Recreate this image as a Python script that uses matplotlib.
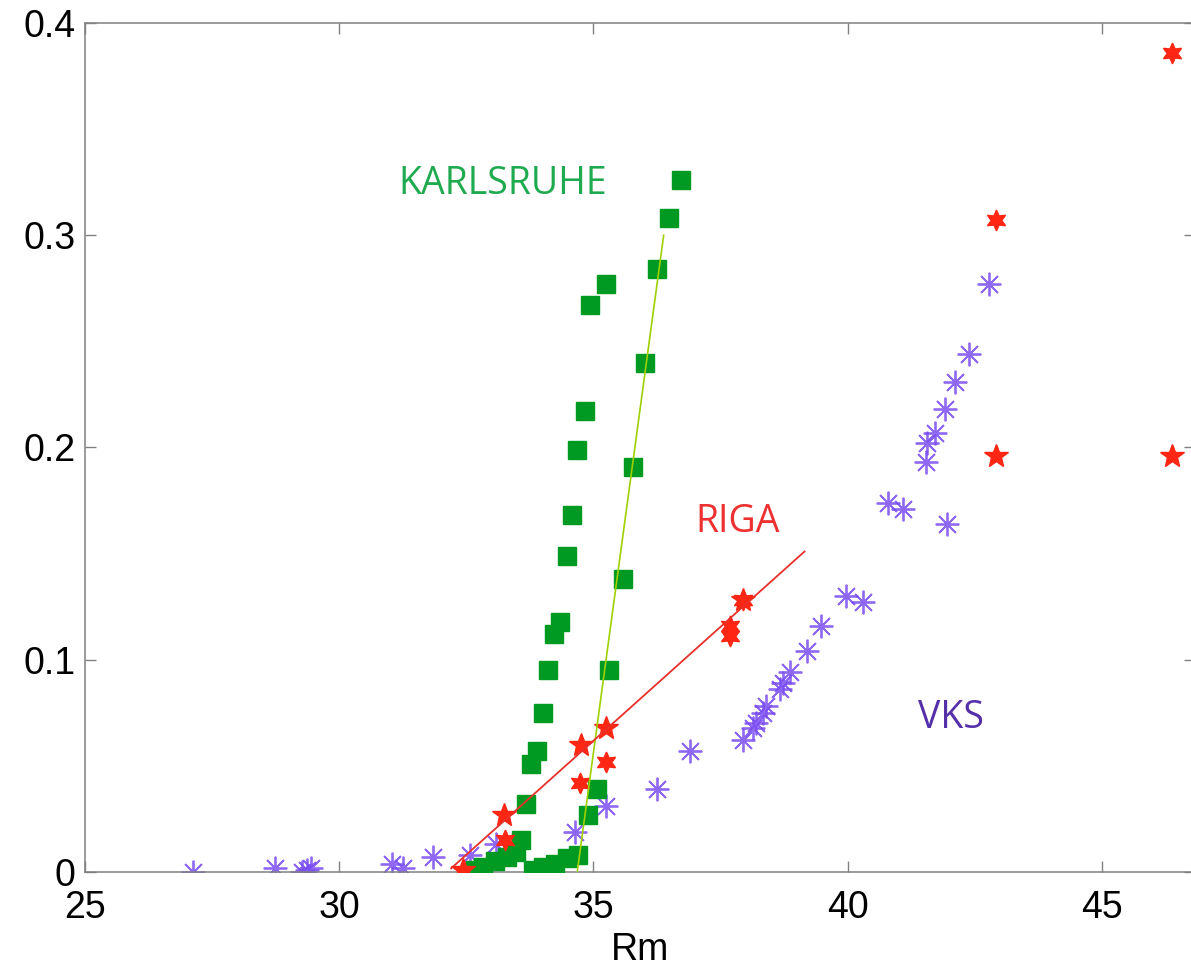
import numpy as np
import matplotlib
matplotlib.use("Agg")
import matplotlib.pyplot as plt

# Karlsruhe squares, two branches
kar_up_x = [32.67, 32.83, 33.06, 33.29, 33.48, 33.58, 33.68, 33.78, 33.88, 34.01,
            34.11, 34.22, 34.34, 34.47, 34.57, 34.67, 34.83, 34.94, 35.25]
kar_up_y = [0.001, 0.0025, 0.005, 0.007, 0.0095, 0.015, 0.032, 0.051, 0.057, 0.075,
            0.095, 0.112, 0.118, 0.149, 0.168, 0.199, 0.217, 0.267, 0.277]
kar_dn_x = [33.81, 34.01, 34.24, 34.47, 34.70, 34.90, 35.07, 35.31, 35.58, 35.77,
            36.01, 36.24, 36.48, 36.73]
kar_dn_y = [0.001, 0.0025, 0.004, 0.0065, 0.008, 0.027, 0.039, 0.095, 0.138, 0.191,
            0.240, 0.284, 0.308, 0.326]
kar_fit_x = [34.68, 36.38]
kar_fit_y = [0.0, 0.300]

# Riga stars
riga_pent_x = [32.44, 33.24, 34.76, 35.25, 37.94, 42.92, 46.37]
riga_pent_y = [0.001, 0.027, 0.060, 0.068, 0.128, 0.196, 0.196]
riga_hex_x = [32.44, 33.26, 34.73, 35.25, 37.68, 37.68, 37.94, 42.92, 46.37]
riga_hex_y = [0.000, 0.015, 0.042, 0.052, 0.116, 0.111, 0.128, 0.307, 0.386]
riga_fit_x = [32.20, 39.15]
riga_fit_y = [0.0017, 0.151]

# VKS asterisks
vks_x = [27.12, 28.73, 29.26, 29.36, 29.45, 31.03, 31.26, 31.85, 32.57, 33.09,
         34.63, 35.25, 36.24, 36.89, 37.94, 38.14, 38.20, 38.33, 38.40, 38.66,
         38.73, 38.86, 39.19, 39.48, 39.97, 40.30, 40.79, 41.09, 41.96, 41.54,
         41.55, 41.71, 41.91, 42.10, 42.38, 42.78]
vks_y = [0.000, 0.002, 0.000, 0.001, 0.002, 0.004, 0.002, 0.007, 0.008, 0.013,
         0.019, 0.031, 0.039, 0.057, 0.062, 0.068, 0.070, 0.075, 0.078, 0.086,
         0.089, 0.094, 0.104, 0.116, 0.130, 0.127, 0.174, 0.171, 0.164, 0.193,
         0.202, 0.207, 0.218, 0.231, 0.244, 0.277]

x_ticks = [25, 30, 35, 40, 45]
y_ticks = [0, 0.1, 0.2, 0.3, 0.4]
y_tick_labels = ['0', '0.1', '0.2', '0.3', '0.4']

GREEN = '#009a22'
RED = '#ff2614'
BLUE = '#7a4cf2'

plt.rcParams['font.family'] = ['Liberation Sans', 'DejaVu Sans']

fig = plt.figure(figsize=(11.91, 9.66), dpi=100)
ax = fig.add_axes([85 / 1191, 94 / 966, 1110 / 1191, 849 / 966])

ax.plot(vks_x, vks_y, linestyle='none', marker=(8, 2, 0), markersize=17,
        markeredgecolor=BLUE, markeredgewidth=1.3, alpha=0.85, zorder=2)
ax.plot(kar_up_x, kar_up_y, 's', color=GREEN, markersize=13, zorder=3)
ax.plot(kar_dn_x, kar_dn_y, 's', color=GREEN, markersize=13, zorder=3)
ax.plot(riga_hex_x, riga_hex_y, linestyle='none', marker=(6, 1, 0), markersize=15,
        color=RED, zorder=4)
ax.plot(riga_pent_x, riga_pent_y, linestyle='none', marker='*', markersize=18,
        color=RED, zorder=4)
ax.plot(kar_fit_x, kar_fit_y, '-', color='#9fd000', linewidth=1.2, zorder=5)
ax.plot(riga_fit_x, riga_fit_y, '-', color='#e8302a', linewidth=1.3, zorder=5)

label_font = ['Open Sans', 'DejaVu Sans']
ax.text(31.16, 0.324, 'KARLSRUHE', color='#1faa50', fontsize=27,
        family=label_font, va='center', ha='left')
ax.text(37.0, 0.165, 'RIGA', color='#ee3030', fontsize=27,
        family=label_font, va='center', ha='left')
ax.text(41.38, 0.0726, 'VKS', color='#5530a8', fontsize=27,
        family=label_font, va='center', ha='left')

ax.set_xlim(25, 25 + 1110 / 50.85)
ax.set_ylim(0, 0.4)
ax.set_xticks(x_ticks)
ax.set_yticks(y_ticks)
ax.set_yticklabels(y_tick_labels)
ax.tick_params(direction='in', length=8, width=1, color='#808080',
               top=True, right=True, labelsize=27)
ax.tick_params(axis='x', pad=13)
ax.tick_params(axis='y', pad=7)
for s in ax.spines.values():
    s.set_color('#808080')
    s.set_linewidth(1.1)
ax.set_xlabel('Rm', fontsize=27, labelpad=4)

fig.savefig('out.png', dpi=100)
